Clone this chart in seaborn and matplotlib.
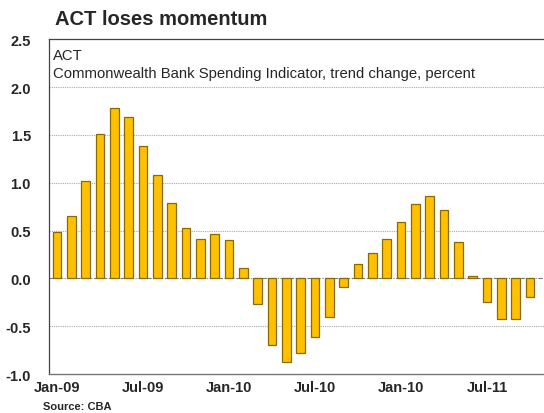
import matplotlib
matplotlib.use("Agg")
import matplotlib.pyplot as plt
import seaborn as sns

# Monthly CBA spending indicator for the ACT, Jan-09 .. Oct-11
months = ["Jan-09", "Feb-09", "Mar-09", "Apr-09", "May-09", "Jun-09",
          "Jul-09", "Aug-09", "Sep-09", "Oct-09", "Nov-09", "Dec-09",
          "Jan-10", "Feb-10", "Mar-10", "Apr-10", "May-10", "Jun-10",
          "Jul-10", "Aug-10", "Sep-10", "Oct-10", "Nov-10", "Dec-10",
          "Jan-11", "Feb-11", "Mar-11", "Apr-11", "May-11", "Jun-11",
          "Jul-11", "Aug-11", "Sep-11", "Oct-11"]
values = [0.48, 0.65, 1.02, 1.51, 1.78, 1.69,
          1.38, 1.08, 0.79, 0.53, 0.41, 0.46,
          0.40, 0.11, -0.27, -0.70, -0.87, -0.78,
          -0.61, -0.40, -0.09, 0.15, 0.27, 0.41,
          0.59, 0.78, 0.86, 0.71, 0.38, 0.03,
          -0.25, -0.42, -0.42, -0.19]
# labels as printed on the original chart (note the repeated Jan-10)
tick_labels = {0: "Jan-09", 6: "Jul-09", 12: "Jan-10", 18: "Jul-10",
               24: "Jan-10", 30: "Jul-11"}
y_ticks = [-1.0, -0.5, 0.0, 0.5, 1.0, 1.5, 2.0, 2.5]

sns.set_style("white")
plt.rcParams['font.family'] = ['Liberation Sans', 'DejaVu Sans']

fig = plt.figure(figsize=(5.44, 4.14), dpi=100)
ax = fig.add_axes([0.090, 0.094, 0.912, 0.809])

sns.barplot(x=months, y=values, order=months, color="#FFC000",
            edgecolor="#8a6a00", linewidth=0.9, width=0.62, saturation=1,
            ax=ax, zorder=3)

ax.set_xlim(-0.56, 34.05)
ax.set_ylim(-1.0, 2.5)

# grid
for y in y_ticks[1:-1]:
    if y == 0:
        ax.axhline(0, color="#777777", lw=0.8, ls=(0, (4, 1.5, 1, 1.5)), zorder=2)
    else:
        ax.axhline(y, color="#aaaaaa", lw=0.8, ls=(0, (1, 1)), zorder=1)

ax.set_yticks(y_ticks)
ax.set_yticklabels([f"{v:.1f}" for v in y_ticks], fontsize=10.5, fontweight="bold")
ax.tick_params(axis="y", length=10, width=0.6, color="#999999", pad=3)

n_ticks = len(months) + 1
ax.set_xticks(range(n_ticks))
ax.set_xticklabels([tick_labels.get(i, "") for i in range(n_ticks)],
                   fontsize=10.5, fontweight="bold")
ax.tick_params(axis="x", direction="in", length=4, width=0.6, color="#666666", pad=4)
ax.set_xlabel("")
ax.set_ylabel("")

ax.spines["right"].set_visible(False)
for side in ["left", "top"]:
    ax.spines[side].set_color("#444444")
    ax.spines[side].set_linewidth(0.9)
ax.spines["bottom"].set_color("#777777")
ax.spines["bottom"].set_linewidth(1.0)

ax.text(0.008, 0.975, "ACT", transform=ax.transAxes, fontsize=10.7, va="top")
ax.text(0.008, 0.92, "Commonwealth Bank Spending Indicator, trend change, percent",
        transform=ax.transAxes, fontsize=10.7, va="top")

fig.text(0.101, 0.975, "ACT loses momentum", fontsize=14.5, fontweight="bold", va="top")
fig.text(0.079, 0.005, "Source: CBA", fontsize=8, fontweight="bold", va="bottom")

fig.savefig("out.png", dpi=100)
